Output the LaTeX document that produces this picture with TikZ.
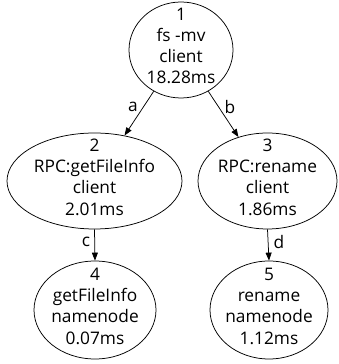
\documentclass[tikz,border=0pt]{standalone}
\usepackage{fontspec}
\setmainfont{Open Sans}
\usetikzlibrary{shapes.geometric,arrows.meta}
\begin{document}
\begin{tikzpicture}[x=1pt,y=1pt,
  gnode/.style={draw,ellipse,line width=0.75pt,inner sep=0pt},
  ntext/.style={align=center,inner sep=0pt,yshift=4pt,
    font=\fontsize{17.3}{21.3}\selectfont},
  gedge/.style={draw,line width=0.75pt,-{Triangle[length=8pt,width=6pt]}},
  elabel/.style={font=\fontsize{17.3}{21.3}\selectfont,inner sep=0pt}]
\useasboundingbox (0,0) rectangle (338,364);
\node[gnode,minimum width=104pt,minimum height=96pt,
  label={[ntext]center:{1\\fs -mv\\client\\18.28ms}}] (n1) at (181,314) {};
\node[gnode,minimum width=175pt,minimum height=96pt,
  label={[ntext]center:{2\\RPC:getFileInfo\\client\\2.01ms}}] (n2) at (94.5,183) {};
\node[gnode,minimum width=139pt,minimum height=96pt,
  label={[ntext]center:{3\\RPC:rename\\client\\1.86ms}}] (n3) at (267.5,183) {};
\node[gnode,minimum width=122pt,minimum height=98pt,
  label={[ntext]center:{4\\getFileInfo\\namenode\\0.07ms}}] (n4) at (95,54) {};
\node[gnode,minimum width=118pt,minimum height=98pt,
  label={[ntext]center:{5\\rename\\namenode\\1.12ms}}] (n5) at (269,54) {};
\draw[gedge] (n1) -- (n2);
\draw[gedge] (n1) -- (n3);
\draw[gedge] (n2.south) -- (n4.north);
\draw[gedge] (n3.south) -- (n5.north);
\node[elabel] (la) at (133,257) {a};
\node[elabel] (lb) at (230,257) {b};
\node[elabel] (lc) at (86,122) {c};
\node[elabel] (ld) at (279,122) {d};
\end{tikzpicture}
\end{document}
